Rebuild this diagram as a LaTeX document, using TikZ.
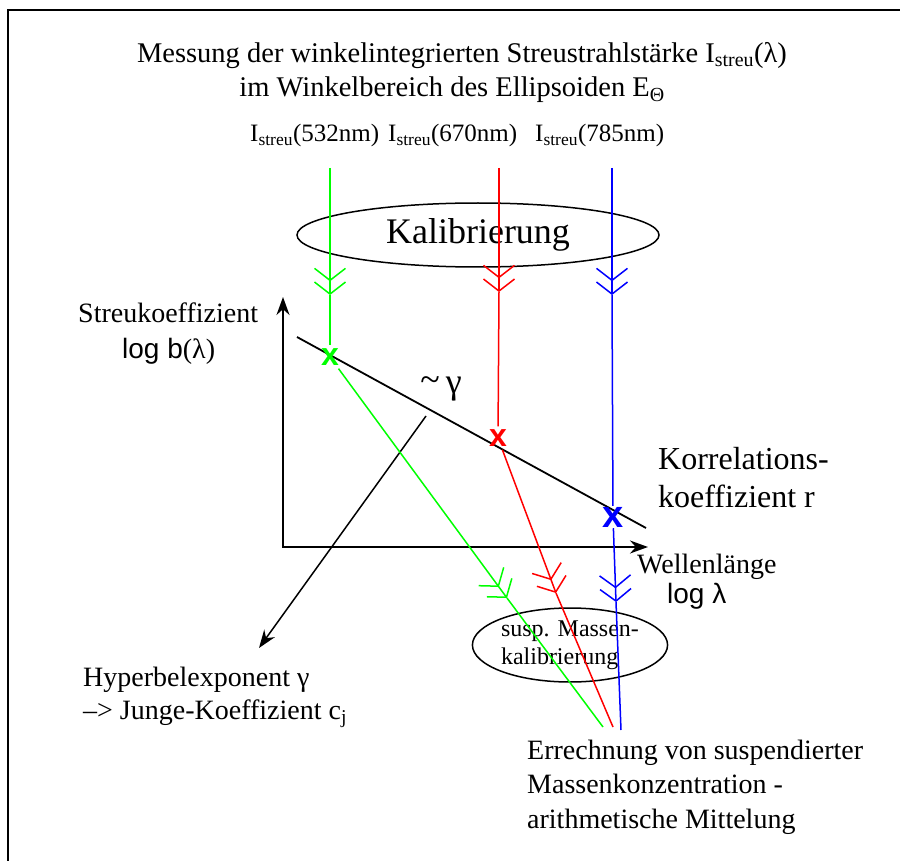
\documentclass[tikz,border=0pt]{standalone}
\usepackage{fontspec}
\setmainfont{Liberation Serif}
\newfontfamily\arialfont{Liberation Sans}
\usetikzlibrary{arrows.meta,shapes.geometric}
\newcommand{\Istreu}{I\textsubscript{streu}}
\definecolor{lgreen}{rgb}{0,1,0}
\begin{document}
\begin{tikzpicture}
[
    x=1pt, y=-1pt,
    txt/.style={inner sep=0pt, anchor=base west, font=\fontsize{28}{34}\selectfont},
    lbl/.style={inner sep=0pt, anchor=base west, font=\fontsize{25}{30}\selectfont},
    ray/.style={line width=1.5pt},
    feather/.style={ray, -{Straight Barb[length=12pt,width=31pt,sep=0pt] Straight Barb[length=12pt,width=31pt]}},
    hit/.style={inner sep=3pt, font=\arialfont\bfseries\fontsize{32}{32}\selectfont},
    axis/.style={line width=1.8pt, {Stealth[length=18pt,width=13pt]}-{Stealth[length=18pt,width=13pt]}},
]
    \useasboundingbox (0,0) rectangle (900,861);
    \draw[line width=2.5pt] (8,880) -- (8,10) -- (920,10);

    % headings
    \node[txt, anchor=base, font=\fontsize{28.5}{34}\selectfont] (head1) at (462,63) {Messung der winkelintegrierten Streustrahlstärke \Istreu(λ)};
    \node[txt, anchor=base, font=\fontsize{28.5}{34}\selectfont] (head2) at (452,97) {im Winkelbereich des Ellipsoiden E\textsubscript{Θ}};
    \node[lbl] (l532) at (250,142) {\Istreu(532nm)};
    \node[lbl] (l670) at (388,142) {\Istreu(670nm)};
    \node[lbl] (l785) at (535,142) {\Istreu(785nm)};

    \node[ellipse, draw, line width=1.5pt, minimum width=362pt, minimum height=64pt, inner sep=0pt,
          font=\fontsize{36}{36}\selectfont] (kalib) at (478,235) {Kalibrierung};

    % diagram
    \coordinate (orig) at (283,547);
    \coordinate (ytip) at (283,297);
    \coordinate (xtip) at (648,547);
    \draw[axis] (ytip) -- (orig) -- (xtip);
    \coordinate (fitA) at (297,337);
    \coordinate (fitB) at (646,528);
    \draw[line width=1.8pt] (fitA) -- (fitB);

    \node[txt] (ylab1) at (78,323) {Streukoeffizient};
    \node[txt] (ylab2) at (122,358) {{\arialfont log b}(λ)};
    \node[txt] (xlab1) at (637,573) {Wellenlänge};
    \node[txt, font=\arialfont\fontsize{28}{34}\selectfont] (xlab2) at (667,603) {log λ};
    \node[txt, anchor=base, font=\fontsize{36}{36}\selectfont] (slope) at (441,393) {\raisebox{2pt}{\textasciitilde}\,γ};
    \node[txt, font=\fontsize{32}{38}\selectfont] (korr1) at (658,469) {Korrelations-};
    \node[txt, font=\fontsize{32}{38}\selectfont] (korr2) at (658,507) {koeffizient r};
    \node[txt] (hyp1) at (83,686) {Hyperbelexponent γ};
    \node[txt] (hyp2) at (83,719) {\textendash{}> Junge-Koeffizient c\textsubscript{j}};

    \coordinate (slopeA) at (426,416);
    \coordinate (slopeB) at (259,648);
    \draw[line width=1.5pt, -{Stealth[length=18pt,width=13pt]}] (slopeA) -- (slopeB);

    \node[ellipse, draw, line width=1.5pt, minimum width=175pt, minimum height=74pt, inner sep=0pt,
          align=left, font=\fontsize{24}{28}\selectfont] (susp) at (570,645) {susp. Massen-\\kalibrierung};

    \node[txt] (calc1) at (527,759) {Errechnung von suspendierter};
    \node[txt] (calc2) at (527,793) {Massenkonzentration -};
    \node[txt] (calc3) at (527,828) {arithmetische Mittelung};

    % measured points
    \node[hit, text=lgreen] (gx) at (330,357) {x};
    \node[hit, text=red] (rx) at (498,438) {x};
    \node[hit, text=blue, font=\arialfont\bfseries\fontsize{38}{38}\selectfont, inner sep=1pt] (bx) at (613,517) {x};

    % rays
    \coordinate (gtop) at (330,168);
    \coordinate (gcal) at (330,295);
    \coordinate (gsus) at (507,598);
    \coordinate (gend) at (603,727);
    \coordinate (rtop) at (499,168);
    \coordinate (rcal) at (499,292);
    \coordinate (rsus) at (556,593);
    \coordinate (rend) at (613,727);
    \coordinate (btop) at (612,168);
    \coordinate (bcal) at (612,295);
    \coordinate (bsus) at (616,602);
    \coordinate (bend) at (621,730);

    \draw[feather, lgreen] (gtop) -- (gcal);
    \draw[ray, lgreen] (gcal) -- (gx);
    \draw[feather, lgreen] (gx) -- (gsus);
    \draw[ray, lgreen] (gsus) -- (gend);
    \draw[feather, red] (rtop) -- (rcal);
    \draw[ray, red] (rcal) -- (rx);
    \draw[feather, red] (rx) -- (rsus);
    \draw[ray, red] (rsus) -- (rend);
    \draw[feather, blue] (btop) -- (bcal);
    \draw[ray, blue] (bcal) -- (bx);
    \draw[feather, blue] (bx) -- (bsus);
    \draw[ray, blue] (bsus) -- (bend);
\end{tikzpicture}
\end{document}
